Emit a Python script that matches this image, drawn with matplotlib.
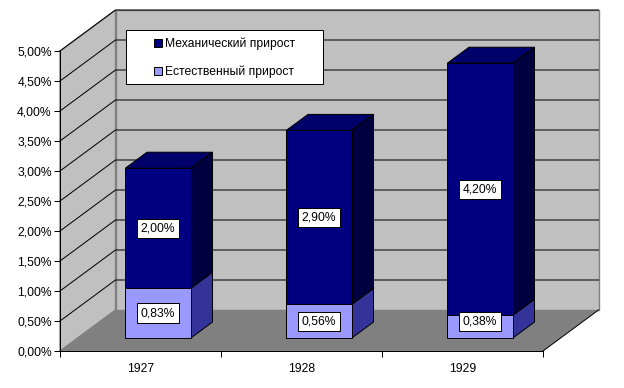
import matplotlib
matplotlib.use('Agg')
import matplotlib.pyplot as plt
from matplotlib.patches import Patch, Rectangle

plt.rcParams['font.family'] = ['Liberation Sans', 'DejaVu Sans']
plt.rcParams['font.size'] = 8.7

years = ['1927', '1928', '1929']
natural = [0.83, 0.56, 0.38]
mechanical = [2.00, 2.90, 4.20]
natural_labels = ['0,83%', '0,56%', '0,38%']
mechanical_labels = ['2,00%', '2,90%', '4,20%']
y_ticks = [0, 0.5, 1, 1.5, 2, 2.5, 3, 3.5, 4, 4.5, 5]
y_tick_labels = ['0,00%', '0,50%', '1,00%', '1,50%', '2,00%', '2,50%',
                 '3,00%', '3,50%', '4,00%', '4,50%', '5,00%']

W, H = 624, 388
# fake 3d: depth goes up and to the right, in data units
DEPTH_X = 55.5 / 161
DEPTH_Y = 41 / 60
BAR_W = 0.407
BAR_D0 = 0.317
BAR_D1 = 0.707
LINE = 0.72

NAVY = '#000080'
NAVY_TOP = '#00006a'
NAVY_SIDE = '#000040'
LILAC = '#9999ff'
LILAC_TOP = '#8080e0'
LILAC_SIDE = '#333399'


def px(d):
    return d * DEPTH_X, d * DEPTH_Y


def draw_box(ax, x0, x1, y0, y1, front, top, side, z):
    fx, fy = px(BAR_D0)
    bx, by = px(BAR_D1)
    ax.fill([x0 + fx, x1 + fx, x1 + fx, x0 + fx], [y0 + fy, y0 + fy, y1 + fy, y1 + fy],
            facecolor=front, edgecolor='black', lw=LINE, zorder=z + 1, clip_on=False)
    ax.fill([x0 + fx, x1 + fx, x1 + bx, x0 + bx], [y1 + fy, y1 + fy, y1 + by, y1 + by],
            facecolor=top, edgecolor='black', lw=LINE, zorder=z, clip_on=False)
    ax.fill([x1 + fx, x1 + bx, x1 + bx, x1 + fx], [y0 + fy, y0 + by, y1 + by, y1 + fy],
            facecolor=side, edgecolor='black', lw=LINE, zorder=z, clip_on=False)


fig = plt.figure(figsize=(W / 100, H / 100), dpi=100)
ax = fig.add_axes([60 / W, 1 - 351 / H, 483 / W, 300 / H])
ax.set_xlim(0, 3)
ax.set_ylim(0, 5)

dx, dy = px(1)
# back wall, side wall, floor
ax.fill([dx, 3 + dx, 3 + dx, dx], [dy, dy, 5 + dy, 5 + dy], facecolor='#c0c0c0',
        edgecolor='#808080', lw=1, zorder=1, clip_on=False)
ax.fill([0, dx, dx, 0], [0, dy, 5 + dy, 5], facecolor='#c0c0c0',
        edgecolor='#808080', lw=1, zorder=1, clip_on=False)
ax.fill([0, 3, 3 + dx, dx], [0, 0, dy, dy], facecolor='#808080',
        edgecolor='none', zorder=1, clip_on=False)

for t in y_ticks[1:]:
    ax.plot([0, dx, 3 + dx], [t, t + dy, t + dy], color='black', lw=LINE, zorder=2, clip_on=False)
ax.plot([3, 3 + dx], [0, dy], color='black', lw=LINE, zorder=2, clip_on=False)

for i in range(len(years)):
    x0 = i + 0.5 - BAR_W / 2
    x1 = i + 0.5 + BAR_W / 2
    top = natural[i] + mechanical[i]
    # lower box first so the upper one hides its top face
    draw_box(ax, x0, x1, 0, natural[i], LILAC, LILAC_TOP, LILAC_SIDE, 3)
    draw_box(ax, x0, x1, natural[i], top, NAVY, NAVY_TOP, NAVY_SIDE, 3)
    fx, fy = px(BAR_D0)
    box = dict(boxstyle='square,pad=0.3', facecolor='white', edgecolor='black', lw=LINE)
    nudge = 5 if natural[i] < 0.5 else 0
    ax.annotate(natural_labels[i], (i + 0.5 + fx, natural[i] / 2 + fy), xytext=(0, nudge * 0.72),
                textcoords='offset points', ha='center', va='center', bbox=box, zorder=6)
    ax.annotate(mechanical_labels[i], (i + 0.5 + fx, natural[i] + mechanical[i] / 2 + fy),
                ha='center', va='center', bbox=box, zorder=6)

ax.set_yticks(y_ticks)
ax.set_yticklabels(y_tick_labels)
ax.set_xticks([0, 1, 2, 3])
ax.set_xticklabels([])
ax.set_xticks([0.5, 1.5, 2.5], minor=True)
ax.set_xticklabels(years, minor=True)
ax.tick_params(axis='x', which='minor', length=0, pad=8.5)
ax.tick_params(axis='x', which='major', length=4, width=LINE, direction='out')
ax.tick_params(axis='y', length=4, width=LINE, direction='out', pad=2)
ax.spines['top'].set_visible(False)
ax.spines['right'].set_visible(False)
ax.set_facecolor('none')
for s in ('left', 'bottom'):
    ax.spines[s].set_zorder(5)
    ax.spines[s].set_linewidth(LINE)

# legend frame is fixed in pixels, the entries sit centred inside it
fig.add_artist(Rectangle((126 / W, 1 - 84 / H), 197 / W, 54 / H, transform=fig.transFigure,
                         facecolor='white', edgecolor='black', lw=LINE, zorder=7))
handles = [Patch(facecolor=NAVY, edgecolor='black', lw=LINE, label='Механический прирост'),
           Patch(facecolor=LILAC, edgecolor='black', lw=LINE, label='Естественный прирост')]
leg = ax.legend(handles=handles, loc='center', bbox_to_anchor=(224.5 / W, 1 - 58 / H),
                bbox_transform=fig.transFigure, frameon=False,
                handlelength=0.67, handleheight=0.67, handletextpad=0.3, labelspacing=1.3,
                borderaxespad=0, borderpad=0)
leg.set_zorder(8)
fig.add_artist(leg)

fig.savefig('out.png', dpi=100)
